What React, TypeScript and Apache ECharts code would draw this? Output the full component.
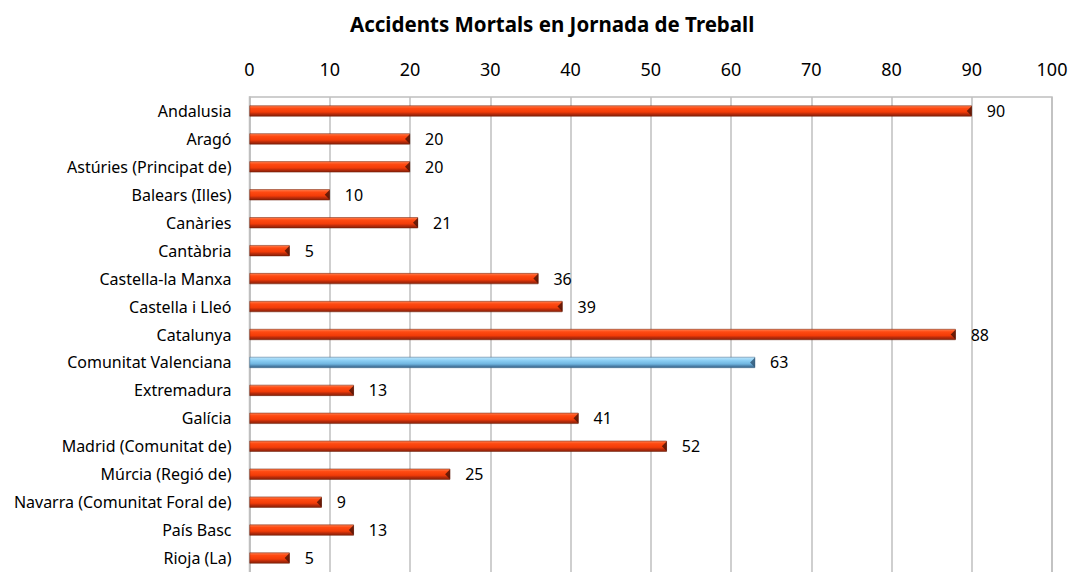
import React, { useEffect, useRef } from "react";
import * as echarts from "echarts";

const categories = [
  "Andalusia",
  "Aragó",
  "Astúries (Principat de)",
  "Balears (Illes)",
  "Canàries",
  "Cantàbria",
  "Castella-la Manxa",
  "Castella i Lleó",
  "Catalunya",
  "Comunitat Valenciana",
  "Extremadura",
  "Galícia",
  "Madrid (Comunitat de)",
  "Múrcia (Regió de)",
  "Navarra (Comunitat Foral de)",
  "País Basc",
  "Rioja (La)",
];
const values = [90, 20, 20, 10, 21, 5, 36, 39, 88, 63, 13, 41, 52, 25, 9, 13, 5];
const highlighted = "Comunitat Valenciana";
const xTicks = [0, 10, 20, 30, 40, 50, 60, 70, 80, 90, 100];

const redGrad = new echarts.graphic.LinearGradient(0, 0, 0, 1, [
  { offset: 0, color: "#FF8050" },
  { offset: 0.25, color: "#FF4A12" },
  { offset: 0.6, color: "#F23C08" },
  { offset: 0.8, color: "#B52A0A" },
  { offset: 1, color: "#8A2208" },
]);
const blueGrad = new echarts.graphic.LinearGradient(0, 0, 0, 1, [
  { offset: 0, color: "#BDE5FB" },
  { offset: 0.3, color: "#8ED0F5" },
  { offset: 0.65, color: "#6FB5E0" },
  { offset: 0.85, color: "#4A7FA8" },
  { offset: 1, color: "#3B6688" },
]);

export default function App() {
  const ref = useRef<HTMLDivElement>(null);
  useEffect(() => {
    document.body.style.margin = "0";
    const chart = echarts.init(ref.current!, undefined, { renderer: "svg" });
    const font = "'Noto Sans', 'Open Sans', sans-serif";
    chart.setOption({
      animation: false,
      backgroundColor: "#ffffff",
      title: {
        text: "Accidents Mortals en Jornada de Treball",
        left: 345,
        top: 8,
        textStyle: { fontFamily: font, fontSize: 20.5, fontWeight: "bold", color: "#000" },
      },
      grid: { left: 249.5, right: 23, top: 97, height: 481, containLabel: false },
      xAxis: {
        type: "value",
        position: "top",
        min: xTicks[0],
        max: xTicks[xTicks.length - 1],
        interval: 10,
        axisLine: { show: false },
        axisTick: { show: false },
        axisLabel: { fontFamily: font, fontSize: 18, color: "#000", margin: 19 },
        splitLine: { show: true, lineStyle: { color: "#BFBFBF", width: 1.5 } },
      },
      yAxis: {
        type: "category",
        inverse: true,
        data: categories,
        axisLine: { show: true, lineStyle: { color: "#BFBFBF", width: 1.5 } },
        axisTick: { show: false },
        axisLabel: { fontFamily: font, fontSize: 16, color: "#000", margin: 18 },
      },
      graphic: [
        {
          type: "rect",
          shape: { x: 249.5, y: 97, width: 1075 - 23 - 249.5, height: 481 },
          style: { fill: "none", stroke: "#BFBFBF", lineWidth: 1.5 },
          silent: true,
          z: 0,
        },
      ],
      series: [
        {
          type: "bar",
          barWidth: 11,
          data: values.map((v, i) => ({
            value: v,
            itemStyle: {
              color: categories[i] === highlighted ? blueGrad : redGrad,
              borderColor: categories[i] === highlighted ? "#3B6688" : "#6A1A05",
              borderWidth: 0.5,
            },
          })),
          label: {
            show: true,
            position: "right",
            distance: 15,
            fontFamily: font,
            fontSize: 16,
            color: "#000",
          },
        },
        {
          type: "scatter",
          symbol: "triangle",
          symbolRotate: 90,
          symbolSize: [10, 5],
          symbolOffset: [-2.5, 0],
          silent: true,
          z: 3,
          data: values.map((v, i) => ({
            value: [v, categories[i]],
            itemStyle: {
              color: categories[i] === highlighted ? "#2E5372" : "#4A1205",
            },
          })),
        },
      ],
    });
    return () => chart.dispose();
  }, []);
  return <div ref={ref} style={{ width: 1075, height: 572 }} />;
}
